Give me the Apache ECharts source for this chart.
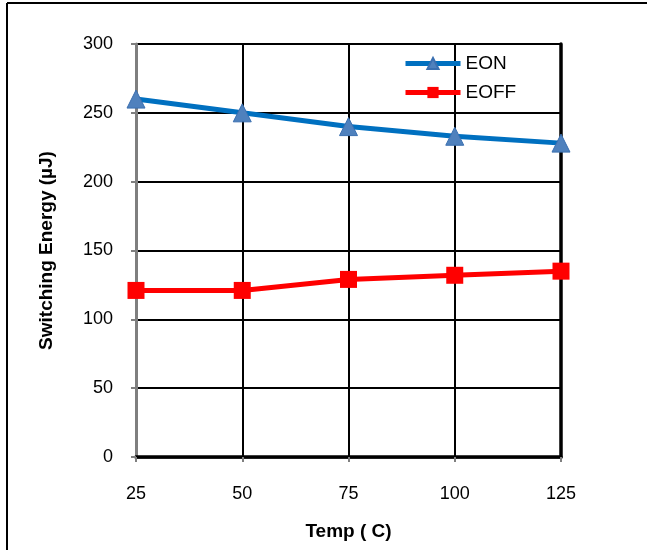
<!DOCTYPE html>
<html><head><meta charset="utf-8">
<script src="https://cdn.jsdelivr.net/npm/echarts@6/dist/echarts.min.js"></script>
<style>html,body{margin:0;padding:0;background:#fff}#c{width:647px;height:550px}</style>
</head><body><div id="c"></div>
<script>
var temps = [25, 50, 75, 100, 125];
var eon = [260, 250, 240, 233, 228];
var eoff = [121, 121, 129, 132, 135];
var yTicks = [0, 50, 100, 150, 200, 250, 300];

var chart = echarts.init(document.getElementById('c'));
var font = 'Liberation Sans, Arial, sans-serif';
chart.setOption({
  animation: false,
  textStyle: {fontFamily: font},
  grid: {left: 136, right: 86, top: 44, bottom: 93},
  legend: {
    orient: 'vertical', left: 398, top: 49, itemWidth: 55, itemHeight: 14, itemGap: 10,
    textStyle: {fontSize: 19, color: '#000', fontFamily: font},
    lineStyle: {width: 5},
    data: ['EON', 'EOFF']
  },
  xAxis: [{
    type: 'value', min: temps[0], max: temps[temps.length - 1], interval: 25,
    name: 'Temp ( C)', nameLocation: 'middle', nameGap: 65,
    nameTextStyle: {fontSize: 19, fontWeight: 'bold', color: '#000'},
    axisLine: {lineStyle: {color: '#7f7f7f', width: 3}},
    axisTick: {show: true, length: 5, lineStyle: {color: '#7f7f7f', width: 2}},
    axisLabel: {fontSize: 18, color: '#000', margin: 28},
    splitLine: {show: true, lineStyle: {color: '#000', width: 2}}
  }, {
    type: 'value', position: 'top', min: 25, max: 125, interval: 25,
    axisLine: {show: true, lineStyle: {color: '#000', width: 3.5}},
    axisTick: {show: false}, axisLabel: {show: false}, splitLine: {show: false}
  }],
  yAxis: [{
    type: 'value', min: yTicks[0], max: yTicks[yTicks.length - 1], interval: 50,
    name: 'Switching Energy (µJ)', nameLocation: 'middle', nameGap: 80,
    nameTextStyle: {fontSize: 19, fontWeight: 'bold', color: '#000'},
    axisLine: {show: true, lineStyle: {color: '#7f7f7f', width: 3}},
    axisTick: {show: true, length: 5, lineStyle: {color: '#7f7f7f', width: 2}},
    axisLabel: {fontSize: 18, color: '#000', margin: 23},
    splitLine: {show: true, lineStyle: {color: '#000', width: 2}}
  }, {
    type: 'value', position: 'right', min: 0, max: 300, interval: 50,
    axisLine: {show: true, lineStyle: {color: '#000', width: 3.5}},
    axisTick: {show: false}, axisLabel: {show: false}, splitLine: {show: false}
  }],
  series: [{
    name: 'EON', type: 'line',
    data: temps.map(function (t, i) { return [t, eon[i]]; }),
    symbol: 'triangle', symbolSize: 18,
    lineStyle: {color: '#0070c0', width: 5},
    itemStyle: {color: '#4f81bd', borderColor: '#3a6fb0', borderWidth: 1}
  }, {
    name: 'EOFF', type: 'line',
    data: temps.map(function (t, i) { return [t, eoff[i]]; }),
    symbol: 'rect', symbolSize: 17,
    lineStyle: {color: '#ff0000', width: 5},
    itemStyle: {color: '#ff0000'}
  }],
  graphic: [
    {type: 'line', shape: {x1: 7, y1: 3, x2: 647, y2: 3}, style: {stroke: '#000', lineWidth: 2}},
    {type: 'line', shape: {x1: 7, y1: 3, x2: 7, y2: 550}, style: {stroke: '#000', lineWidth: 2}}
  ]
});
</script></body></html>
